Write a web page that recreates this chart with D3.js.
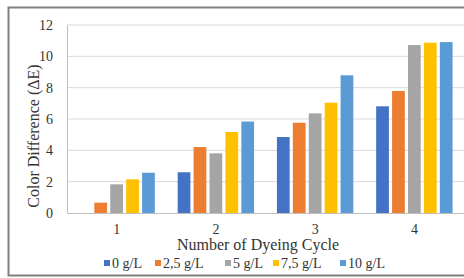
<!DOCTYPE html>
<html>
<head>
<meta charset="utf-8">
<script src="https://cdn.jsdelivr.net/npm/d3@7"></script>
<style>
  body { margin: 0; background: #fff; }
  text { font-family: "Liberation Serif", "Times New Roman", serif; fill: #333; }
</style>
</head>
<body>
<svg width="464" height="278"></svg>
<script>
const cycles = ["1", "2", "3", "4"];
const series = ["0 g/L", "2,5 g/L", "5 g/L", "7,5 g/L", "10 g/L"];
const colors = ["#4472C4", "#ED7D31", "#A5A5A5", "#FFC000", "#5B9BD5"];
// values[series][cycle]
const values = [
    [0, 2.6, 4.85, 6.81],
    [0.66, 4.21, 5.76, 7.79],
    [1.83, 3.81, 6.36, 10.72],
    [2.15, 5.17, 7.04, 10.87],
    [2.57, 5.84, 8.79, 10.91]
];
const yTicks = [0, 2, 4, 6, 8, 10, 12];

const svg = d3.select("svg");
const margin = {top: 25, right: 0, bottom: 65, left: 67};
const width = +svg.attr("width") - margin.left - margin.right;
const height = +svg.attr("height") - margin.top - margin.bottom;

// outer frame
svg.append("rect")
    .attr("x", 8.5).attr("y", 7.5)
    .attr("width", 470).attr("height", 268)
    .attr("fill", "none")
    .attr("stroke", "#7f7f7f")
    .attr("stroke-width", 2);

const g = svg.append("g").attr("transform", `translate(${margin.left},${margin.top})`);

const xScale = d3.scaleBand()
    .domain(cycles)
    .range([0, width])
    .paddingInner(0.23)
    .paddingOuter(0.115);

const xInner = d3.scaleBand()
    .domain(series)
    .range([0, xScale.bandwidth()])
    .paddingInner(0.2);

const yScale = d3.scaleLinear()
    .domain([0, 12])
    .range([height, 0]);

// gridlines
g.append("g")
    .selectAll("line")
    .data(yTicks.slice(1))
    .join("line")
    .attr("x1", 0).attr("x2", width)
    .attr("y1", d => yScale(d)).attr("y2", d => yScale(d))
    .attr("stroke", "#d9d9d9");

// y axis
const yAxis = g.append("g")
    .call(d3.axisLeft(yScale).tickValues(yTicks).tickSize(0).tickPadding(14));
yAxis.select(".domain").attr("stroke", "#bfbfbf");
yAxis.selectAll("text").attr("font-size", 14).attr("font-family", "Liberation Serif").attr("fill", "#333");

// x axis
const xAxis = g.append("g")
    .attr("transform", `translate(0, ${height})`)
    .call(d3.axisBottom(xScale).tickSize(0).tickPadding(11));
xAxis.select(".domain").attr("stroke", "#bfbfbf");
xAxis.selectAll("text").attr("font-size", 14).attr("font-family", "Liberation Serif").attr("fill", "#333");

// bars
const groups = g.selectAll(".grp")
    .data(cycles)
    .join("g")
    .attr("class", "grp")
    .attr("transform", d => `translate(${xScale(d)},0)`);

groups.selectAll("rect")
    .data((c, ci) => series.map((s, si) => ({s, si, v: values[si][ci]})))
    .join("rect")
    .attr("x", d => xInner(d.s))
    .attr("width", xInner.bandwidth())
    .attr("y", d => yScale(d.v))
    .attr("height", d => height - yScale(d.v))
    .attr("fill", d => colors[d.si]);

// axis titles
svg.append("text")
    .attr("x", 258)
    .attr("y", 250)
    .attr("text-anchor", "middle")
    .attr("font-size", 16)
    .text("Number of Dyeing  Cycle");

svg.append("text")
    .attr("transform", "translate(39,136) rotate(-90)")
    .attr("text-anchor", "middle")
    .attr("font-size", 16)
    .text("Color Difference (ΔE)");

// legend
const legendX = [104, 155, 225, 273, 340];
const legend = svg.append("g");
series.forEach((s, i) => {
    legend.append("rect")
        .attr("x", legendX[i]).attr("y", 260)
        .attr("width", 6).attr("height", 6)
        .attr("fill", colors[i]);
    legend.append("text")
        .attr("x", legendX[i] + 8).attr("y", 268)
        .attr("font-size", 14)
        .text(s);
});
</script>
</body>
</html>
